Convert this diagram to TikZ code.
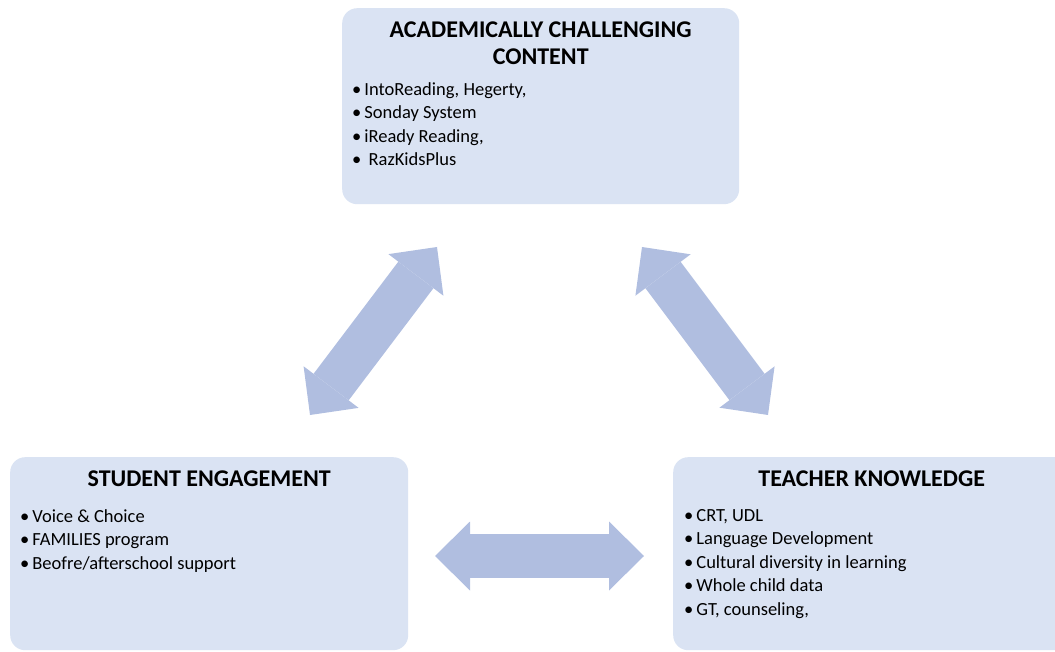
\documentclass[tikz,border=0pt]{standalone}
\usepackage{fontspec}
\setmainfont{Carlito}
\usepackage{xcolor}
\usepackage{tikz}
\usetikzlibrary{arrows.meta}

\definecolor{boxblue}{HTML}{DAE3F3}
\definecolor{arrowblue}{HTML}{B0BEE0}

\newcommand{\itm}{\textbullet\hspace{3pt}}

\begin{document}
\begin{tikzpicture}[x=1pt, y=-1pt,
  box/.style={fill=boxblue, rounded corners=15pt, anchor=north west, inner sep=0pt},
  boxtitle/.style={font=\bfseries\fontsize{24}{27}\selectfont, align=center, anchor=north, inner sep=0pt},
  items/.style={font=\fontsize{18.5}{23.5}\selectfont, align=left, anchor=north west, inner sep=0pt},
  link/.style={draw=arrowblue, line width=44pt,
    {Triangle[length=35pt, width=69pt, line width=0pt]}-{Triangle[length=35pt, width=69pt, line width=0pt]}}]

  \useasboundingbox (0,0) rectangle (1055,652);

  % the three boxes
  \node[box, minimum width=397pt, minimum height=196pt] (content) at (342,8) {};
  \node[box, minimum width=398pt, minimum height=193pt] (student) at (10,457) {};
  \node[box, minimum width=397pt, minimum height=193pt] (teacher) at (673,457) {};

  \node[boxtitle] (content-title) at ([yshift=-14pt]content.north) {ACADEMICALLY CHALLENGING\\CONTENT};
  \node[items] (content-list) at (352,82) {%
    \itm IntoReading, Hegerty,\\
    \itm Sonday System\\
    \itm iReady Reading,\\
    \itm\ RazKidsPlus};

  \node[boxtitle] (student-title) at ([yshift=-14pt]student.north) {STUDENT ENGAGEMENT};
  \node[items] (student-list) at (20,509) {%
    \itm Voice \& Choice\\
    \itm FAMILIES program\\
    \itm Beofre/afterschool support};

  \node[boxtitle] (teacher-title) at ([yshift=-14pt]teacher.north) {TEACHER KNOWLEDGE};
  \node[items] (teacher-list) at (684,509) {%
    \itm CRT, UDL\\
    \itm Language Development\\
    \itm Cultural diversity in learning\\
    \itm Whole child data\\
    \itm GT, counseling,};

  % arrow ends
  \coordinate (c-left) at (437,247);
  \coordinate (c-right) at (642,247);
  \coordinate (s-up) at (310,415);
  \coordinate (s-right) at (435,556);
  \coordinate (t-up) at (768,415);
  \coordinate (t-left) at (644,556);

  \draw[link] (s-up) -- (c-left);
  \draw[link] (c-right) -- (t-up);
  \draw[link] (s-right) -- (t-left);
\end{tikzpicture}
\end{document}
